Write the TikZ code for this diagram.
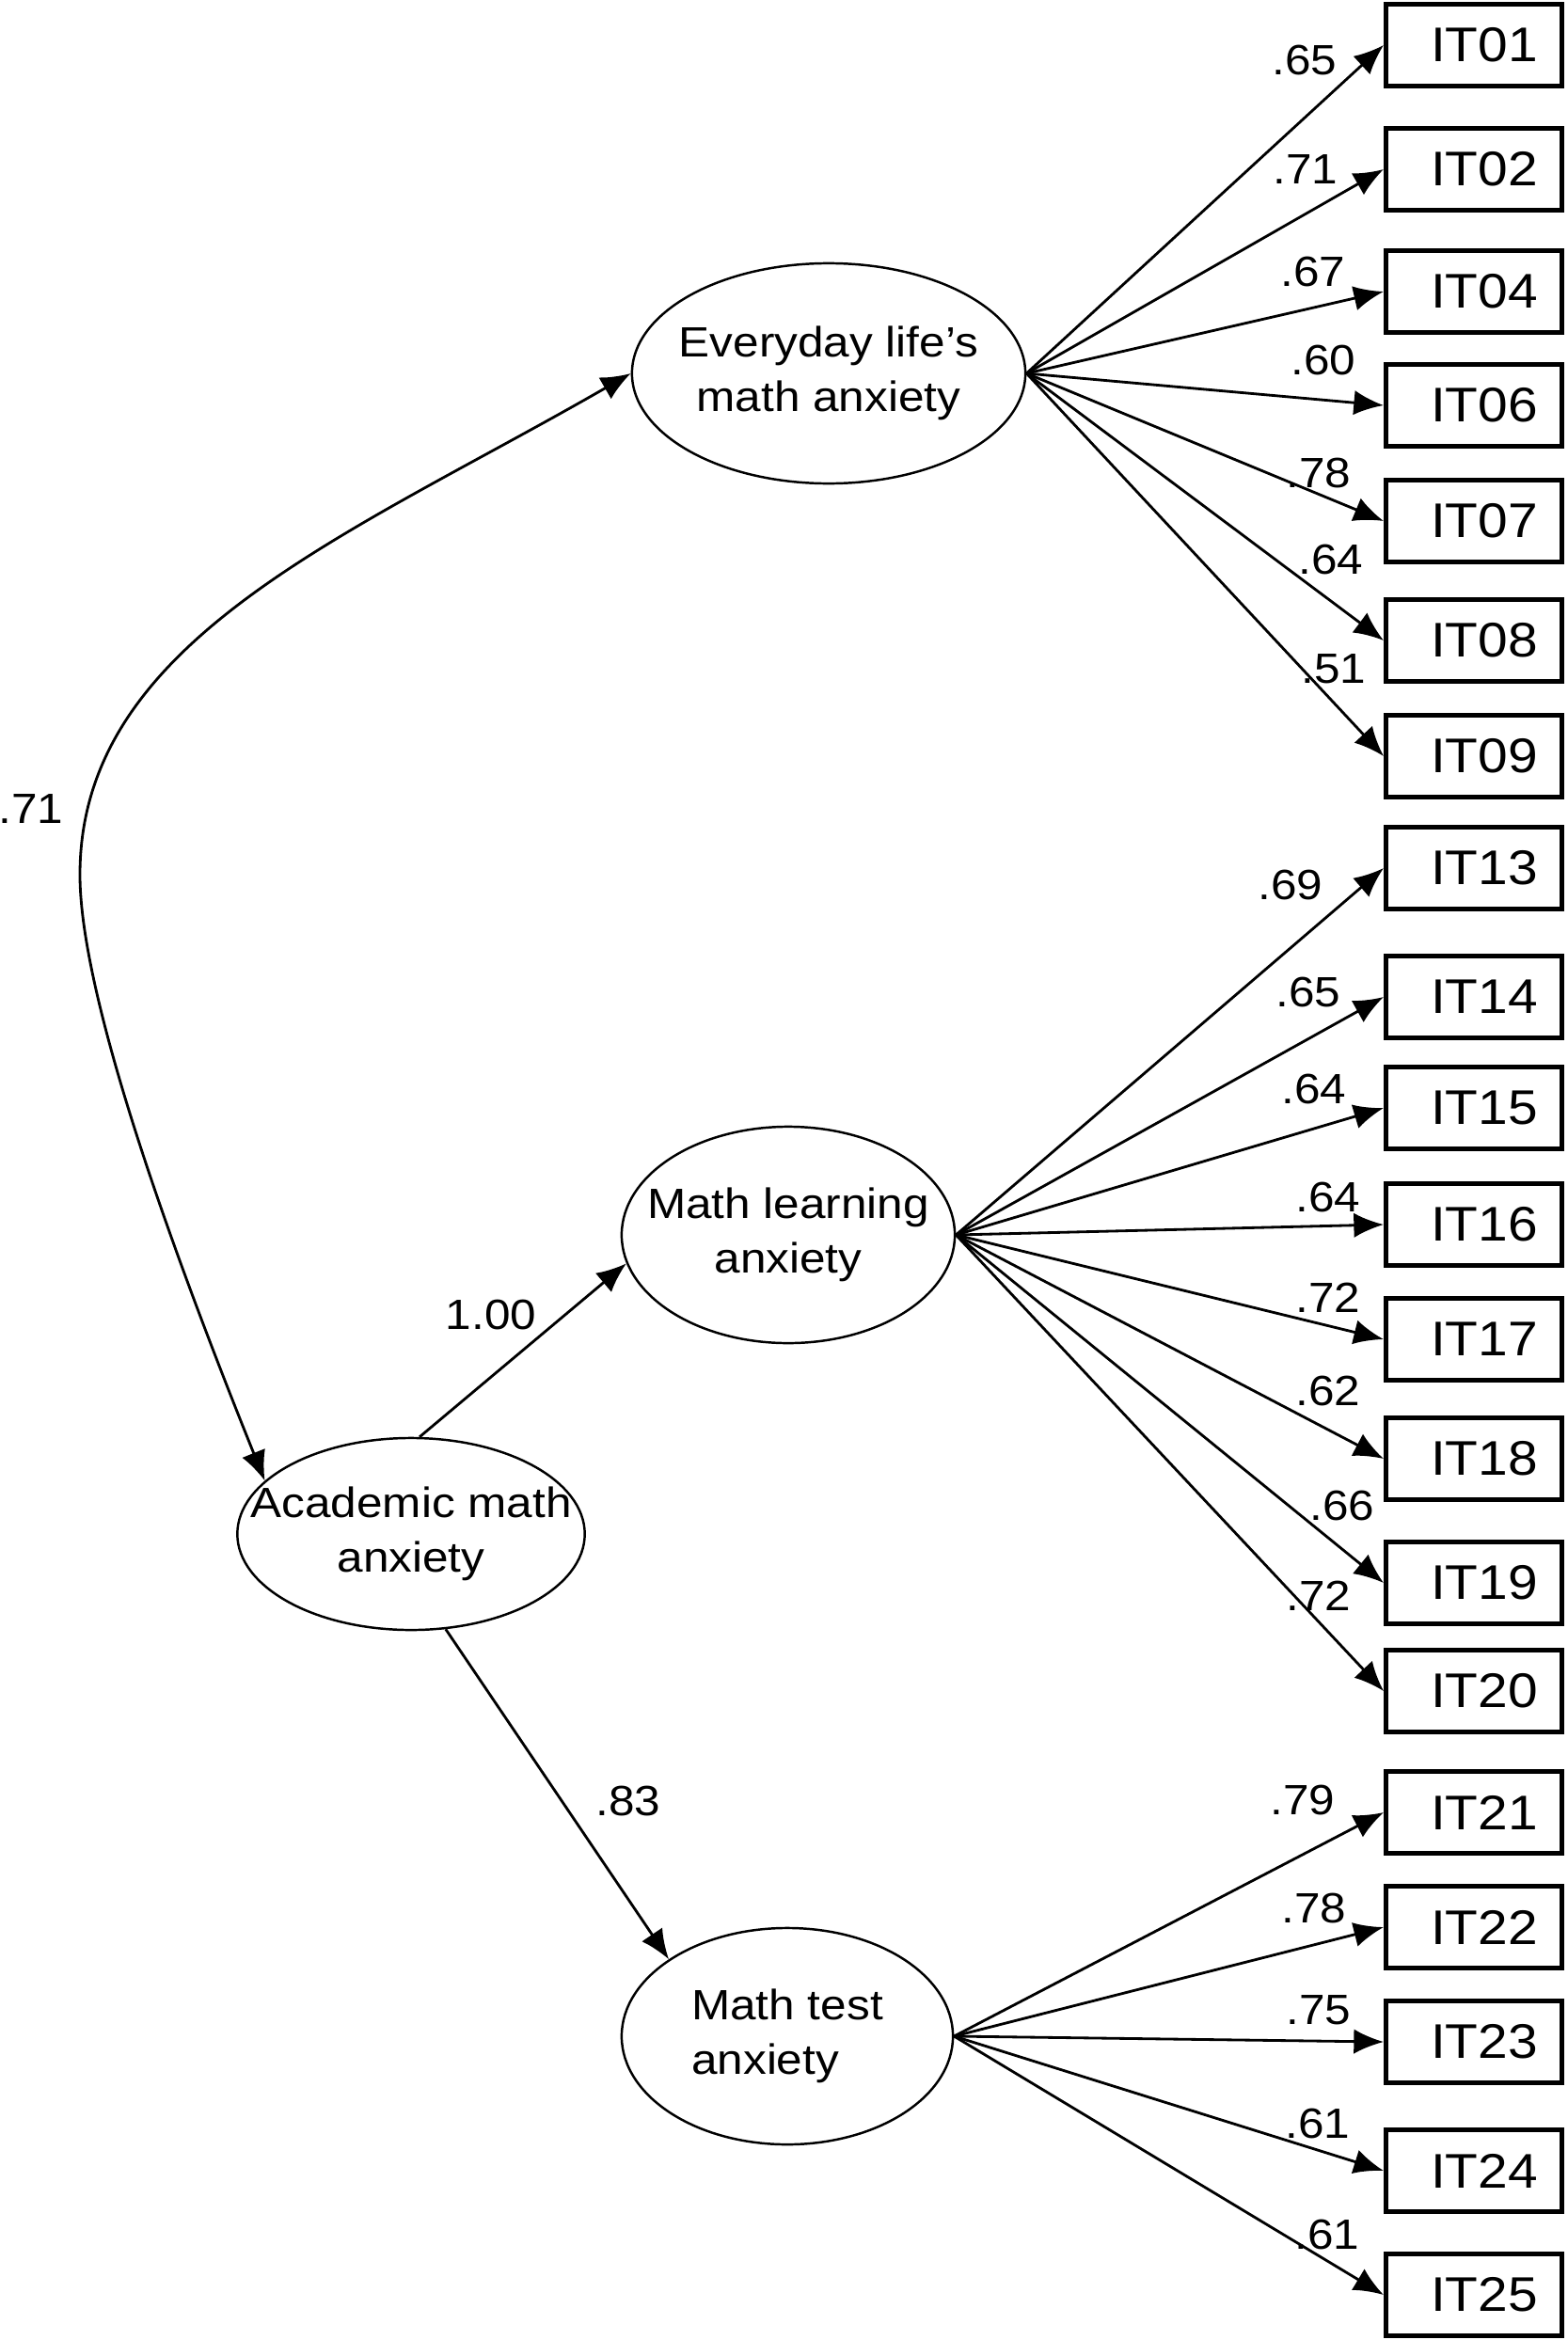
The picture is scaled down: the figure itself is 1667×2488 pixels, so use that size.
\documentclass[tikz,border=0pt]{standalone}
\usepackage{fontspec}
\setmainfont{Liberation Sans}[FakeStretch=1.1]
\usetikzlibrary{arrows.meta}
\usetikzlibrary{shapes.geometric}

\begin{document}
\begin{tikzpicture}[
        x=0.01cm, y=-0.01cm,
        latent/.style={draw,ellipse,line width=0.7pt,inner sep=-0.4cm,align=center,font=\fontsize{12.8}{16.5}\selectfont},
        item/.style={draw,rectangle,line width=1.4pt,minimum width=1.87cm,minimum height=0.87cm,inner sep=0pt,font=\fontsize{14.7}{16}\selectfont,execute at begin node=\hspace{0.22cm}},
        coef/.style={inner sep=0pt,font=\fontsize{12.8}{14}\selectfont},
        load/.style={->,line width=0.8pt},
        >={Latex[length=9pt,width=7.5pt]}
    ]
        \useasboundingbox (0,0) rectangle (1667,2488);

        % latent factors
        \node[latent,minimum width=4.18cm,minimum height=2.34cm] (ev) at (881,397) {Everyday life’s\\math anxiety};
        \node[latent,minimum width=3.54cm,minimum height=2.30cm] (ml) at (838,1313) {Math learning\\anxiety};
        \node[latent,minimum width=3.54cm,minimum height=2.04cm] (ac) at (437,1631) {Academic math\\anxiety};
        \node[latent,minimum width=3.52cm,minimum height=2.30cm,align=left] (mt) at (837,2165) {Math test\\anxiety};

        % items
        \node[item] (it01) at (1567,48) {IT01};
        \node[item] (it02) at (1567,180) {IT02};
        \node[item] (it04) at (1567,310) {IT04};
        \node[item] (it06) at (1567,431) {IT06};
        \node[item] (it07) at (1567,554) {IT07};
        \node[item] (it08) at (1567,681) {IT08};
        \node[item] (it09) at (1567,804) {IT09};
        \node[item] (it13) at (1567,923) {IT13};
        \node[item] (it14) at (1567,1060) {IT14};
        \node[item] (it15) at (1567,1178) {IT15};
        \node[item] (it16) at (1567,1302) {IT16};
        \node[item] (it17) at (1567,1424) {IT17};
        \node[item] (it18) at (1567,1551) {IT18};
        \node[item] (it19) at (1567,1683) {IT19};
        \node[item] (it20) at (1567,1798) {IT20};
        \node[item] (it21) at (1567,1927) {IT21};
        \node[item] (it22) at (1567,2049) {IT22};
        \node[item] (it23) at (1567,2171) {IT23};
        \node[item] (it24) at (1567,2308) {IT24};
        \node[item] (it25) at (1567,2440) {IT25};

        % loadings
        \draw[load] (ev.east) -- (it01.west);
        \draw[load] (ev.east) -- (it02.west);
        \draw[load] (ev.east) -- (it04.west);
        \draw[load] (ev.east) -- (it06.west);
        \draw[load] (ev.east) -- (it07.west);
        \draw[load] (ev.east) -- (it08.west);
        \draw[load] (ev.east) -- (it09.west);
        \draw[load] (ml.east) -- (it13.west);
        \draw[load] (ml.east) -- (it14.west);
        \draw[load] (ml.east) -- (it15.west);
        \draw[load] (ml.east) -- (it16.west);
        \draw[load] (ml.east) -- (it17.west);
        \draw[load] (ml.east) -- (it18.west);
        \draw[load] (ml.east) -- (it19.west);
        \draw[load] (ml.east) -- (it20.west);
        \draw[load] (mt.east) -- (it21.west);
        \draw[load] (mt.east) -- (it22.west);
        \draw[load] (mt.east) -- (it23.west);
        \draw[load] (mt.east) -- (it24.west);
        \draw[load] (mt.east) -- (it25.west);

        \node[coef] (c01) at (1387,64) {.65};
        \node[coef] (c02) at (1388,180) {.71};
        \node[coef] (c04) at (1396,289) {.67};
        \node[coef] (c06) at (1407,383) {.60};
        \node[coef] (c07) at (1402,503) {.78};
        \node[coef] (c08) at (1415,595) {.64};
        \node[coef] (c09) at (1418,711) {.51};
        \node[coef] (c13) at (1372,941) {.69};
        \node[coef] (c14) at (1391,1055) {.65};
        \node[coef] (c15) at (1397,1158) {.64};
        \node[coef] (c16) at (1412,1273) {.64};
        \node[coef] (c17) at (1412,1380) {.72};
        \node[coef] (c18) at (1412,1479) {.62};
        \node[coef] (c19) at (1427,1601) {.66};
        \node[coef] (c20) at (1402,1697) {.72};
        \node[coef] (c21) at (1385,1914) {.79};
        \node[coef] (c22) at (1397,2029) {.78};
        \node[coef] (c23) at (1402,2137) {.75};
        \node[coef] (c24) at (1401,2258) {.61};
        \node[coef] (c25) at (1411,2376) {.61};

        % second order
        \draw[load] (ac.85) -- (ml.190);
        \draw[load] (ac.-70) -- (mt.147);
        \node[coef] (p1) at (522,1398) {1.00};
        \node[coef] (p2) at (668,1915) {.83};

        \draw[<->,line width=0.8pt] (ev.west) .. controls (370,570) and (85,680) .. (85,930)
            .. controls (85,1050) and (169,1295) .. (ac.160);
        \node[coef] (r1) at (33,860) {.71};
    \end{tikzpicture}
\end{document}
